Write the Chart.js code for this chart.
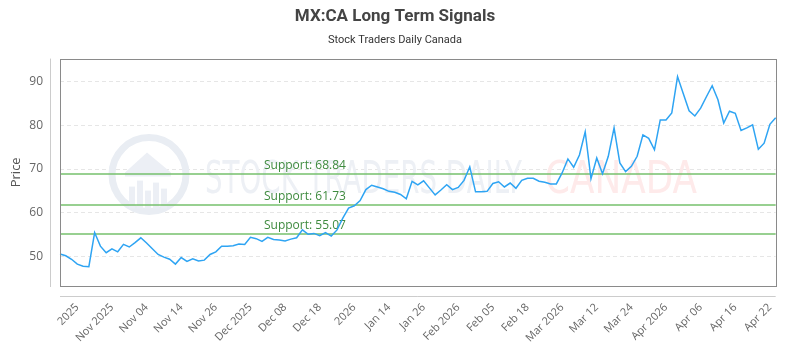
<!DOCTYPE html>
<html>
<head>
<meta charset="utf-8">
<title>MX:CA Long Term Signals</title>
<script src="https://cdn.jsdelivr.net/npm/chart.js@4.4.1/dist/chart.umd.min.js"></script>
<style>
  html, body { margin: 0; padding: 0; background: #fff; }
  #wrap { width: 800px; height: 350px; }
</style>
</head>
<body>
<div id="wrap"><canvas id="chart"></canvas></div>
<script>
// closing prices, one per trading day
const prices = [
  50.6, 50.2, 49.4, 48.3, 47.8, 47.7, 55.5, 52.4, 50.9, 51.8,
  51.1, 52.8, 52.2, 53.2, 54.3, 53.1, 51.8, 50.5, 49.9, 49.4,
  48.3, 49.8, 48.9, 49.5, 49.0, 49.2, 50.5, 51.1, 52.4, 52.4,
  52.5, 52.9, 52.8, 54.4, 54.1, 53.5, 54.4, 53.9, 53.8, 53.6,
  54.0, 54.3, 56.1, 55.1, 55.3, 54.8, 55.5, 54.7, 56.1, 58.8,
  61.1, 61.6, 62.8, 65.3, 66.3, 65.9, 65.5, 64.9, 64.7, 64.2,
  63.2, 67.2, 66.4, 67.3, 65.7, 64.1, 65.2, 66.4, 65.3, 65.8,
  67.4, 70.5, 64.8, 64.8, 64.9, 66.7, 67.1, 65.9, 66.8, 65.6,
  67.4, 67.9, 67.9, 67.2, 67.0, 66.6, 66.6, 69.1, 72.3, 70.4,
  73.2, 78.5, 67.8, 72.5, 68.9, 72.9, 79.4, 71.4, 69.4, 70.6,
  72.9, 77.8, 77.0, 74.4, 81.2, 81.2, 82.8, 91.1, 87.2, 83.3,
  82.1, 83.9, 86.5, 89.0, 85.8, 80.5, 83.2, 82.7, 78.8, 79.4,
  80.1, 74.5, 75.9, 80.2, 81.7
];

// x-axis labels shown on every 6th trading day, starting at the 4th
const tickLabels = [
  '2025', 'Nov 2025', 'Nov 04', 'Nov 14', 'Nov 26', 'Dec 2025', 'Dec 08',
  'Dec 18', '2026', 'Jan 14', 'Jan 26', 'Feb 2026', 'Feb 05', 'Feb 18',
  'Mar 2026', 'Mar 12', 'Mar 24', 'Apr 2026', 'Apr 06', 'Apr 16', 'Apr 22'
];
const firstTick = 3;
const tickEvery = 6;

const supportLevels = [68.84, 61.73, 55.07];
const yTicks = [50, 60, 70, 80, 90];
const yMin = 43.3;
const yMax = 95.2;

const labels = prices.map((_, i) => {
  const k = (i - firstTick) / tickEvery;
  return Number.isInteger(k) && k >= 0 && k < tickLabels.length ? tickLabels[k] : '';
});

Chart.defaults.font.family = "'Open Sans', sans-serif";
Chart.defaults.color = '#666';

// faint logo, support lines and the boxed plot frame
const decor = {
  id: 'decor',
  beforeDatasetsDraw(chart) {
    const { ctx, chartArea: a, scales: { y } } = chart;

    ctx.save();
    // watermark
    const cx = a.left + 89, cy = a.top + 116;
    ctx.strokeStyle = '#e9edf3';
    ctx.fillStyle = '#eceff5';
    ctx.lineWidth = 7;
    ctx.beginPath();
    ctx.arc(cx, cy, 37, 0, Math.PI * 2);
    ctx.stroke();
    ctx.beginPath();
    ctx.moveTo(cx - 24, cy - 2);
    ctx.lineTo(cx - 2, cy - 22);
    ctx.lineTo(cx + 22, cy - 2);
    ctx.lineTo(cx + 22, cy + 2);
    ctx.lineTo(cx - 24, cy + 2);
    ctx.closePath();
    ctx.fill();
    [[-20, 8], [-12, 14], [-4, 4], [4, 12], [12, 6]].forEach(([dx, h]) => {
      ctx.fillRect(cx + dx, cy + 6 + (14 - h), 6, 14 + h);
    });

    ctx.textBaseline = 'alphabetic';
    ctx.font = '44px "DejaVu Sans Condensed", "Liberation Sans Narrow", sans-serif';
    const drawFit = (txt, x, w, color) => {
      const tw = ctx.measureText(txt).width;
      ctx.save();
      ctx.translate(x, a.top + 134);
      ctx.scale(w / tw, 1);
      ctx.fillStyle = color;
      ctx.fillText(txt, 0, 0);
      ctx.restore();
    };
    drawFit('STOCK TRADERS DAILY', a.left + 145, 317, '#edf0f5');
    drawFit('CANADA', a.left + 485, 152, '#feeaea');

    // support lines
    ctx.font = '12px "Open Sans", sans-serif';
    ctx.textAlign = 'left';
    ctx.textBaseline = 'middle';
    supportLevels.forEach(v => {
      const py = Math.round(y.getPixelForValue(v));
      ctx.strokeStyle = 'rgba(118, 192, 108, 0.75)';
      ctx.lineWidth = 2;
      ctx.beginPath();
      ctx.moveTo(a.left, py);
      ctx.lineTo(a.right, py);
      ctx.stroke();
      ctx.fillStyle = '#3e8a3e';
      ctx.fillText('Support: ' + v.toFixed(2), a.left + 204, py - 8);
    });
    ctx.restore();
  },
  afterDraw(chart) {
    const { ctx, chartArea: a } = chart;
    ctx.save();
    ctx.lineWidth = 1;
    ctx.strokeStyle = '#8a8a8a';
    ctx.strokeRect(Math.round(a.left) + 0.5, Math.round(a.top) + 0.5,
      Math.round(a.right - a.left), Math.round(a.bottom - a.top));
    // offset axis lines
    ctx.strokeStyle = '#cccccc';
    ctx.beginPath();
    ctx.moveTo(Math.round(a.left) - 9.5, a.top);
    ctx.lineTo(Math.round(a.left) - 9.5, a.bottom + 1);
    ctx.moveTo(a.left, Math.round(a.bottom) + 10.5);
    ctx.lineTo(a.right, Math.round(a.bottom) + 10.5);
    ctx.stroke();
    ctx.restore();
  }
};

new Chart(document.getElementById('chart'), {
  type: 'line',
  data: {
    labels,
    datasets: [{
      label: 'MX:CA',
      data: prices,
      borderColor: '#2ea4f3',
      borderWidth: 1.5,
      pointRadius: 0,
      tension: 0,
      fill: false
    }]
  },
  options: {
    responsive: true,
    maintainAspectRatio: false,
    animation: false,
    layout: { padding: { left: 0, right: 10, top: 1, bottom: 0 } },
    plugins: {
      legend: { display: false },
      tooltip: { enabled: false },
      title: {
        display: true,
        text: 'MX:CA Long Term Signals',
        color: '#444',
        font: { family: 'Roboto', size: 17, weight: 'bold' },
        padding: { top: 6, bottom: 6 }
      },
      subtitle: {
        display: true,
        text: 'Stock Traders Daily Canada',
        color: '#333',
        font: { family: 'Roboto', size: 11 },
        padding: { top: 0, bottom: 12 }
      }
    },
    scales: {
      x: {
        offset: false,
        grid: { display: false, drawTicks: false },
        border: { display: false },
        ticks: {
          autoSkip: false,
          minRotation: 45,
          maxRotation: 45,
          padding: 15,
          color: '#666',
          font: { size: 11 }
        },
        afterFit(scale) { scale.height = 64; }
      },
      y: {
        min: yMin,
        max: yMax,
        afterBuildTicks(scale) { scale.ticks = yTicks.map(v => ({ value: v })); },
        afterFit(scale) { scale.width = 60; },
        grid: { color: '#e6e6e6', drawTicks: false },
        border: { display: false, dash: [4, 3] },
        ticks: { padding: 17, color: '#666', font: { size: 12 } },
        title: {
          display: true,
          text: 'Price',
          color: '#555',
          font: { size: 13 },
          padding: { top: 8, bottom: 0 }
        }
      }
    }
  },
  plugins: [decor]
});
</script>
</body>
</html>
